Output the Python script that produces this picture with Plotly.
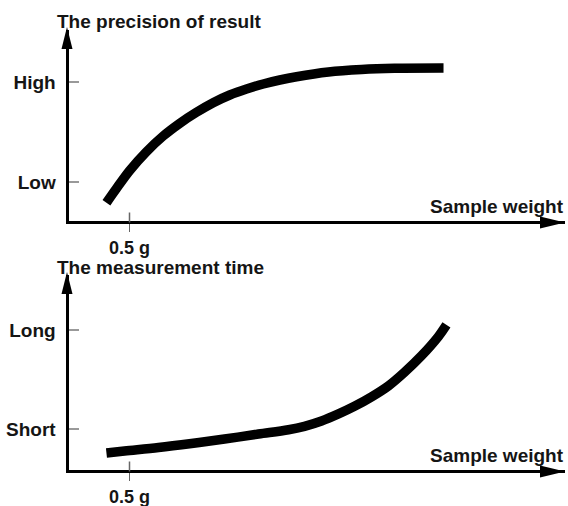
import plotly.graph_objects as go

# ---- data -------------------------------------------------------------
# Sample weight (g) along the horizontal axis
weight_precision = [0.311, 0.393, 0.502, 0.639, 0.776, 0.912, 1.049, 1.186,
                    1.322, 1.459, 1.596, 1.732, 1.869, 2.131, 2.402, 2.672,
                    3.074]
# Precision of the result (1 = Low, 2 = High)
precision = [0.793, 0.935, 1.115, 1.303, 1.460, 1.587, 1.697, 1.793,
             1.870, 1.930, 1.980, 2.020, 2.053, 2.100, 2.125, 2.137,
             2.140]

weight_time = [0.311, 0.459, 0.738, 1.008, 1.279, 1.557, 1.803, 1.934,
               2.074, 2.213, 2.344, 2.484, 2.623, 2.754, 2.893, 3.033,
               3.098]
# Measurement time (1 = Short, 2 = Long)
meas_time = [0.758, 0.778, 0.813, 0.854, 0.899, 0.949, 0.992, 1.027,
             1.081, 1.152, 1.229, 1.325, 1.436, 1.573, 1.739, 1.936,
             2.051]

precision_ticks = [1, 2]
precision_labels = ["Low", "High"]
time_ticks = [1, 2]
time_labels = ["Short", "Long"]
weight_ticks = [0.5]
weight_labels = ["0.5 g"]

# ---- layout constants (pixels) ---------------------------------------
W, H = 568, 506
AX_X0, AX_X1 = 67, 565          # vertical axis line / tip of horizontal arrow
PX_PER_G = 122                  # horizontal scale
TOP = dict(base=222.5, tip=27, low=182, per=100)
BOT = dict(base=471.5, tip=272, low=429, per=99)
LINE_W = 3
FONT = dict(family="Liberation Sans, Arial, sans-serif", size=19,
            color="#151515", weight="bold")
TICK_X_FONT = dict(FONT, size=18)


def px(x):
    return x / W


def py(y):
    return 1 - y / H


def y_range(p):
    lo = 1 + (p["low"] - (p["base"] - LINE_W / 2)) / p["per"]
    hi = 1 + (p["low"] - (p["tip"] + 3)) / p["per"]
    return [lo, hi]


x_range = [0, (AX_X1 - AX_X0 - LINE_W / 2) / PX_PER_G]

curve_line = dict(color="black", width=9.5, shape="spline", simplify=False)

fig = go.Figure()
fig.add_trace(go.Scatter(x=weight_precision, y=precision, mode="lines",
                         line=curve_line, xaxis="x", yaxis="y",
                         hoverinfo="skip"))
fig.add_trace(go.Scatter(x=weight_time, y=meas_time, mode="lines",
                         line=curve_line, xaxis="x2", yaxis="y2",
                         hoverinfo="skip"))

x_dom = [px(AX_X0 + LINE_W / 2), px(AX_X1)]


def xaxis_cfg(anchor):
    return dict(domain=x_dom, range=x_range, anchor=anchor,
                showline=True, linecolor="black", linewidth=LINE_W,
                showgrid=False, zeroline=False,
                tickvals=weight_ticks, ticktext=weight_labels,
                ticks="outside", ticklen=8, tickwidth=1.5, tickcolor="#666",
                ticklabelstandoff=0, tickfont=TICK_X_FONT, fixedrange=True)


def yaxis_cfg(anchor, p, vals, labels):
    return dict(domain=[py(p["base"] - LINE_W / 2), py(p["tip"] + 3)],
                range=y_range(p), anchor=anchor,
                showline=True, linecolor="black", linewidth=LINE_W,
                showgrid=False, zeroline=False,
                tickvals=vals, ticktext=labels,
                ticks="inside", ticklen=10, tickwidth=1.2, tickcolor="#999",
                ticklabelstandoff=6, tickfont=FONT, fixedrange=True)


shapes = []
annotations = []
for p, title, ya in [(TOP, "The precision of result", "y"),
                     (BOT, "The measurement time", "y2")]:
    base, tip = p["base"], p["tip"]
    # arrowhead on the horizontal axis
    shapes.append(dict(type="path", xref="paper", yref="paper",
                       path=f"M{px(AX_X1)},{py(base)} L{px(AX_X1 - 25)},{py(base - 6)} "
                            f"L{px(AX_X1 - 25)},{py(base + 6)} Z",
                       fillcolor="black", line=dict(width=0)))
    # arrowhead on the vertical axis
    shapes.append(dict(type="path", xref="paper", yref="paper",
                       path=f"M{px(AX_X0)},{py(tip)} L{px(AX_X0 - 5.5)},{py(tip + 22)} "
                            f"L{px(AX_X0 + 5.5)},{py(tip + 22)} Z",
                       fillcolor="black", line=dict(width=0)))
    # upper part of the 0.5 g tick crossing the axis
    shapes.append(dict(type="line", xref="x" if ya == "y" else "x2", yref="paper",
                       x0=weight_ticks[0], x1=weight_ticks[0],
                       y0=py(base), y1=py(base - 10),
                       line=dict(color="#666", width=1.5)))
    annotations.append(dict(text=title, xref="paper", yref="paper",
                            x=px(55), y=py(tip - 5), xanchor="left",
                            yanchor="middle", showarrow=False, font=FONT))
    annotations.append(dict(text="Sample weight", xref="paper", yref="paper",
                            x=px(566), y=py(base - 16), xanchor="right",
                            yanchor="middle", showarrow=False, font=FONT))

fig.update_layout(
    width=W, height=H, margin=dict(l=0, r=0, t=0, b=0),
    paper_bgcolor="white", plot_bgcolor="white", showlegend=False,
    xaxis=xaxis_cfg("y"),
    yaxis=yaxis_cfg("x", TOP, precision_ticks, precision_labels),
    xaxis2=xaxis_cfg("y2"),
    yaxis2=yaxis_cfg("x2", BOT, time_ticks, time_labels),
    shapes=shapes, annotations=annotations,
)

fig.write_html("out.html", config={"displayModeBar": False, "staticPlot": True})
